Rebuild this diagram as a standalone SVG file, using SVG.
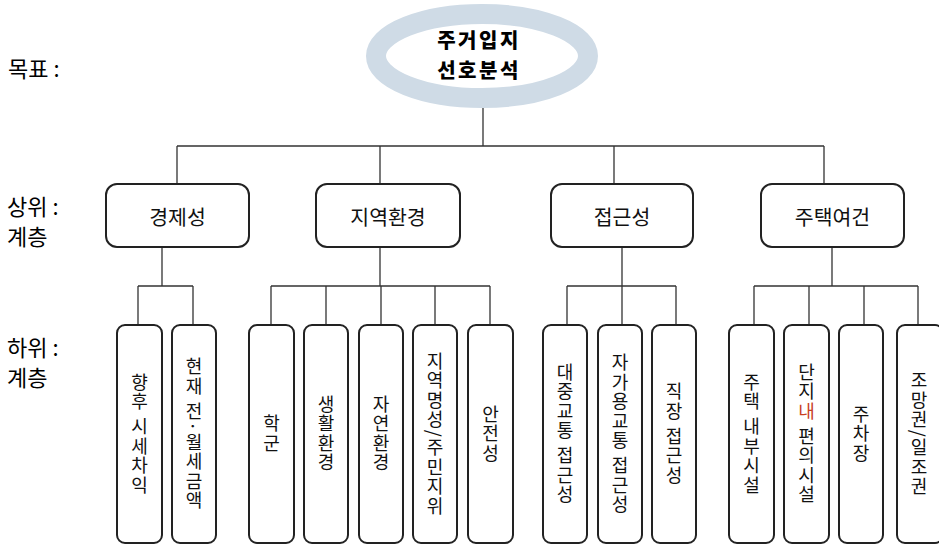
<svg xmlns="http://www.w3.org/2000/svg" width="939" height="545" viewBox="0 0 939 545">
<style>
.lbl{font-family:"Noto Sans CJK KR","Liberation Sans",sans-serif;font-size:22px;fill:#000}
.goal{font-family:"Noto Sans CJK KR","Liberation Sans",sans-serif;font-size:20px;font-weight:900;letter-spacing:2.5px;fill:#000;text-anchor:middle}
.box{fill:#fff;stroke:#222;stroke-width:2}
.up{font-family:"Noto Sans CJK KR","Liberation Sans",sans-serif;font-size:20.5px;fill:#111;text-anchor:middle;dominant-baseline:central}
.vt{font-family:"Noto Sans CJK KR","Liberation Sans",sans-serif;font-size:18px;letter-spacing:1.5px;fill:#111;text-anchor:middle;writing-mode:vertical-rl}
.con{stroke:#333;stroke-width:1.3;fill:none}
</style>
<rect width="939" height="545" fill="#fff"/>
<g id="labels">
<text class="lbl" x="8" y="77">목표 :</text>
<text class="lbl" x="7" y="215">상위 :</text>
<text class="lbl" x="7" y="245">계층</text>
<text class="lbl" x="7" y="356">하위 :</text>
<text class="lbl" x="7" y="386">계층</text>
</g>
<g id="connectors" class="con">
<path d="M483 106V146M177 146H824M177 146V184M380 146V184M614 146V184M824 146V184"/>
<path d="M162 247V286M138 286H193M138 286V325M193 286V325"/>
<path d="M380 247V286M271 286H490M271 286V325M326 286V325M381 286V325M435 286V325M490 286V325"/>
<path d="M622 247V286M567 286H676M567 286V325M622 286V325M676 286V325"/>
<path d="M832 247V286M754 286H918M754 286V325M809 286V325M864 286V325M918 286V325"/>
</g>
<g id="goal">
<ellipse cx="482" cy="56" rx="106" ry="42" fill="#fff" stroke="#cfdbe6" stroke-width="20"/>
<text class="goal" x="479" y="48">주거입지</text>
<text class="goal" x="479" y="77.5">선호분석</text>
</g>
<g id="n-economy"><rect class="box" x="106" y="184" width="143" height="63" rx="11"/><text class="up" x="177.5" y="216">경제성</text></g>
<g id="n-region"><rect class="box" x="316" y="184" width="144" height="63" rx="11"/><text class="up" x="388" y="216">지역환경</text></g>
<g id="n-access"><rect class="box" x="551" y="184" width="142" height="63" rx="11"/><text class="up" x="622" y="216">접근성</text></g>
<g id="n-housing"><rect class="box" x="761" y="184" width="143" height="63" rx="11"/><text class="up" x="832.5" y="216">주택여건</text></g>
<g id="n-future"><rect class="box" x="117" y="325" width="45" height="218" rx="8"/><text class="vt" x="139.5" y="434">향후 시세차익</text></g>
<g id="n-rent"><rect class="box" x="172" y="325" width="44" height="218" rx="8"/><text class="vt" x="194" y="434">현재 전·월세금액</text></g>
<g id="n-school"><rect class="box" x="249" y="325" width="45" height="218" rx="8"/><text class="vt" x="271.5" y="434">학군</text></g>
<g id="n-living"><rect class="box" x="304" y="325" width="44" height="218" rx="8"/><text class="vt" x="326" y="434">생활환경</text></g>
<g id="n-nature"><rect class="box" x="359" y="325" width="44" height="218" rx="8"/><text class="vt" x="381" y="434">자연환경</text></g>
<g id="n-reputation"><rect class="box" x="413" y="325" width="44" height="218" rx="8"/><text class="vt" x="435" y="434">지역명성/주민지위</text></g>
<g id="n-safety"><rect class="box" x="468" y="325" width="45" height="218" rx="8"/><text class="vt" x="490.5" y="434">안전성</text></g>
<g id="n-transit"><rect class="box" x="543" y="325" width="44" height="218" rx="8"/><text class="vt" x="565" y="434">대중교통 접근성</text></g>
<g id="n-car"><rect class="box" x="598" y="325" width="44" height="218" rx="8"/><text class="vt" x="620" y="434">자가용교통 접근성</text></g>
<g id="n-work"><rect class="box" x="652" y="325" width="44" height="218" rx="8"/><text class="vt" x="674" y="434">직장 접근성</text></g>
<g id="n-interior"><rect class="box" x="729" y="325" width="45" height="218" rx="8"/><text class="vt" x="751.5" y="434">주택 내부시설</text></g>
<g id="n-amenity"><rect class="box" x="784" y="325" width="45" height="218" rx="8"/><text class="vt" x="806.5" y="434">단지<tspan fill="#c8401e">내</tspan> 편의시설</text></g>
<g id="n-parking"><rect class="box" x="839" y="325" width="44" height="218" rx="8"/><text class="vt" x="861" y="434">주차장</text></g>
<g id="n-view"><rect class="box" x="897" y="325" width="46" height="218" rx="8"/><text class="vt" x="919" y="434">조망권/일조권</text></g>
</svg>
